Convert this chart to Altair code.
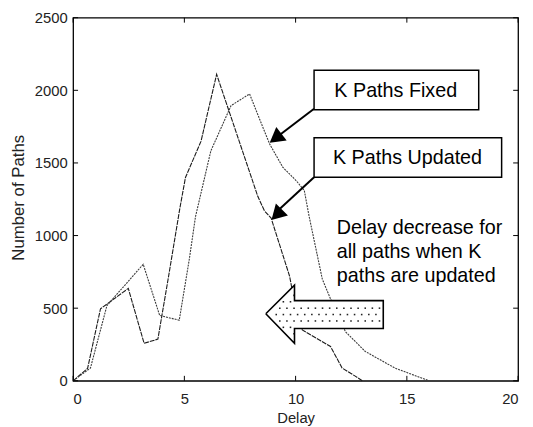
import altair as alt
import pandas as pd
import numpy as np

# ---- series ----
upd_x = [0, 0.65, 1.23, 2.48, 3.19, 3.81, 4.27, 4.8, 5.05, 5.75, 6.45, 8.3, 8.6, 8.9, 9.73, 10.0, 10.3, 11.57, 12.09, 12.68, 13.0]
upd_y = [0, 85, 496, 636, 258, 287, 700, 1190, 1400, 1650, 2110, 1270, 1170, 1120, 720, 500, 350, 236, 88, 32, 0]

fix_x = [0, 0.78, 1.52, 3.15, 3.89, 4.77, 5.22, 5.5, 6.19, 7.1, 7.93, 8.54, 8.84, 9.43, 9.8, 10.02, 10.39, 10.61, 11.2, 11.57, 12.24, 13.13, 14.46, 15.05, 16.0]
fix_y = [0, 88, 518, 802, 450, 417, 835, 1130, 1583, 1895, 1975, 1741, 1628, 1469, 1413, 1379, 1311, 1130, 700, 564, 338, 202, 88, 54, 0]

x_ticks = [0, 5, 10, 15, 20]
y_ticks = [0, 500, 1000, 1500, 2000, 2500]

# ---- annotations (data coordinates) ----
box_labels = ["K Paths Fixed", "K Paths Updated"]
box_x1 = [10.83, 10.83]
box_x2 = [18.23, 19.26]
box_y1 = [1866, 1401]
box_y2 = [2138, 1673]
box_tx = [14.5, 15.03]
box_ty = [1997, 1535]

arr_x1 = [10.83, 10.83]
arr_y1 = [1873, 1401]
arr_x2 = [9.0, 9.05]
arr_y2 = [1660, 1150]
head_x = [9.10, 9.15]
head_y = [1670, 1143]
head_angle = [232.6, 225]

note_lines = ["Delay decrease for", "all paths when K", "paths are updated"]
note_x = 11.85
note_y = [1053, 883, 720]

# big hollow arrow pointing left
big_x = [8.66, 9.95, 9.95, 13.94, 13.94, 9.95, 9.95, 8.66]
big_y = [462, 659, 552, 552, 360, 360, 258, 462]

W, H = 451, 368
FONT = "Liberation Sans"
xs = alt.Scale(domain=[0, 20], nice=False, zero=False)
ys = alt.Scale(domain=[0, 2500], nice=False, zero=False)

lines_df = pd.concat([
    pd.DataFrame({"x": upd_x, "y": upd_y, "s": "K Paths Updated"}),
    pd.DataFrame({"x": fix_x, "y": fix_y, "s": "K Paths Fixed"}),
])

lines = alt.Chart(lines_df).mark_line(strokeWidth=1.1).encode(
    x=alt.X("x:Q", scale=xs, axis=alt.Axis(
        values=x_ticks, format="d", title="Delay", domain=False, ticks=False, grid=False,
        labelPadding=11, labelFontSize=15, titleFontSize=15, titleFontWeight="normal",
        labelFont=FONT, titleFont=FONT, labelColor="#222", titleColor="#222",
        titleY=37, titleBaseline="middle")),
    y=alt.Y("y:Q", scale=ys, axis=alt.Axis(
        values=y_ticks, format="d", title="Number of Paths", domain=False, ticks=False, grid=False,
        labelPadding=6, labelFontSize=15, titleFontSize=17, titleFontWeight="normal",
        labelFont=FONT, titleFont=FONT, labelColor="#222", titleColor="#222",
        titleX=-55, titleY=182, titleBaseline="middle")),
    color=alt.Color("s:N", scale=alt.Scale(domain=["K Paths Updated", "K Paths Fixed"],
                                           range=["#1a1a1a", "#3a3a3a"]), legend=None),
    strokeDash=alt.StrokeDash("s:N", scale=alt.Scale(domain=["K Paths Updated", "K Paths Fixed"],
                                                     range=[[5, 1], [2, 1]]), legend=None),
)

# tick marks inward on all four sides
xt = pd.DataFrame({"v": x_ticks})
yt = pd.DataFrame({"v": y_ticks})
tb = alt.Chart(xt).mark_rule(color="black").encode(
    x=alt.X("v:Q", scale=xs, axis=None), y=alt.value(H), y2=alt.value(H - 5))
tt = alt.Chart(xt).mark_rule(color="black").encode(
    x=alt.X("v:Q", scale=xs, axis=None), y=alt.value(0), y2=alt.value(5))
tl = alt.Chart(yt).mark_rule(color="black").encode(
    y=alt.Y("v:Q", scale=ys, axis=None), x=alt.value(0), x2=alt.value(5))
tr = alt.Chart(yt).mark_rule(color="black").encode(
    y=alt.Y("v:Q", scale=ys, axis=None), x=alt.value(W), x2=alt.value(W - 5))

# boxes with labels
box_df = pd.DataFrame({"x1": box_x1, "x2": box_x2, "y1": box_y1, "y2": box_y2,
                       "tx": box_tx, "ty": box_ty, "t": box_labels})
boxes = alt.Chart(box_df).mark_rect(fill="white", stroke="black", strokeWidth=1.5).encode(
    x=alt.X("x1:Q", scale=xs, axis=None), x2="x2:Q",
    y=alt.Y("y1:Q", scale=ys, axis=None), y2="y2:Q")
box_text = alt.Chart(box_df).mark_text(font=FONT, fontSize=20, color="black",
                                       align="center", baseline="middle").encode(
    x=alt.X("tx:Q", scale=xs, axis=None), y=alt.Y("ty:Q", scale=ys, axis=None), text="t:N")

# arrows
arr_df = pd.DataFrame({"x1": arr_x1, "y1": arr_y1, "x2": arr_x2, "y2": arr_y2,
                       "hx": head_x, "hy": head_y, "a": head_angle})
arr_lines = alt.Chart(arr_df).mark_rule(color="black", strokeWidth=2).encode(
    x=alt.X("x1:Q", scale=xs, axis=None), x2="x2:Q",
    y=alt.Y("y1:Q", scale=ys, axis=None), y2="y2:Q")
arr_heads = alt.Chart(arr_df).mark_point(shape="triangle-up", filled=True, size=300,
                                         color="black", opacity=1).encode(
    x=alt.X("hx:Q", scale=xs, axis=None), y=alt.Y("hy:Q", scale=ys, axis=None),
    angle=alt.Angle("a:Q", scale=None))

# note text
note_df = pd.DataFrame({"t": note_lines, "y": note_y, "x": note_x})
note = alt.Chart(note_df).mark_text(font=FONT, fontSize=20, color="black",
                                    align="left", baseline="middle").encode(
    x=alt.X("x:Q", scale=xs, axis=None), y=alt.Y("y:Q", scale=ys, axis=None), text="t:N")

# big hollow arrow: white fill, outline, stipple
fill_df = pd.DataFrame({"x": [big_x[0], big_x[1], big_x[1] + 0.005, big_x[3]],
                        "lo": [big_y[0], big_y[6], big_y[4], big_y[4]],
                        "hi": [big_y[0], big_y[1], big_y[2], big_y[3]]})
big_fill = alt.Chart(fill_df).mark_area(color="white", opacity=1).encode(
    x=alt.X("x:Q", scale=xs, axis=None), y=alt.Y("lo:Q", scale=ys, axis=None), y2="hi:Q")
out_df = pd.DataFrame({"x": big_x, "y": big_y, "o": list(range(len(big_x)))})
big_out = alt.Chart(out_df).mark_line(color="black", strokeWidth=1.6).encode(
    x=alt.X("x:Q", scale=xs, axis=None), y=alt.Y("y:Q", scale=ys, axis=None), order="o:Q")

# stipple texture inside the arrow
tip_x, tip_y = big_x[0], big_y[0]
hb_x = big_x[1]
half_h = (big_y[1] - big_y[6]) / 2.0
dx, dy = 0.32, 44.0
pts = []
row = 0
yy = big_y[6] + 22
while yy < big_y[1] - 20:
    xx = tip_x + 0.15 + (dx / 2 if row % 2 else 0)
    while xx < big_x[3] - 0.12:
        if xx >= hb_x + 0.08:
            inside = (big_y[4] + 15 < yy < big_y[3] - 15)
        else:
            lim = half_h * (xx - tip_x) / (hb_x - tip_x) - 25
            inside = abs(yy - tip_y) < lim
        if inside:
            pts.append((xx, yy))
        xx += dx
    yy += dy
    row += 1
dots_df = pd.DataFrame(pts, columns=["x", "y"])
dots = alt.Chart(dots_df).mark_square(size=2.5, color="#222", opacity=1).encode(
    x=alt.X("x:Q", scale=xs, axis=None), y=alt.Y("y:Q", scale=ys, axis=None))

chart = alt.layer(
    lines, tb, tt, tl, tr, boxes, box_text, arr_lines, arr_heads, note,
    big_fill, dots, big_out
).resolve_axis(x="independent", y="independent").properties(
    width=W, height=H,
    background="white",
    autosize=alt.AutoSizeParams(type="none"),
    padding={"left": 66, "top": 7, "right": 7, "bottom": 44},
).configure_view(stroke="black", strokeWidth=1.3)

chart.save("out.html", embed_options={"renderer": "svg", "actions": False})
